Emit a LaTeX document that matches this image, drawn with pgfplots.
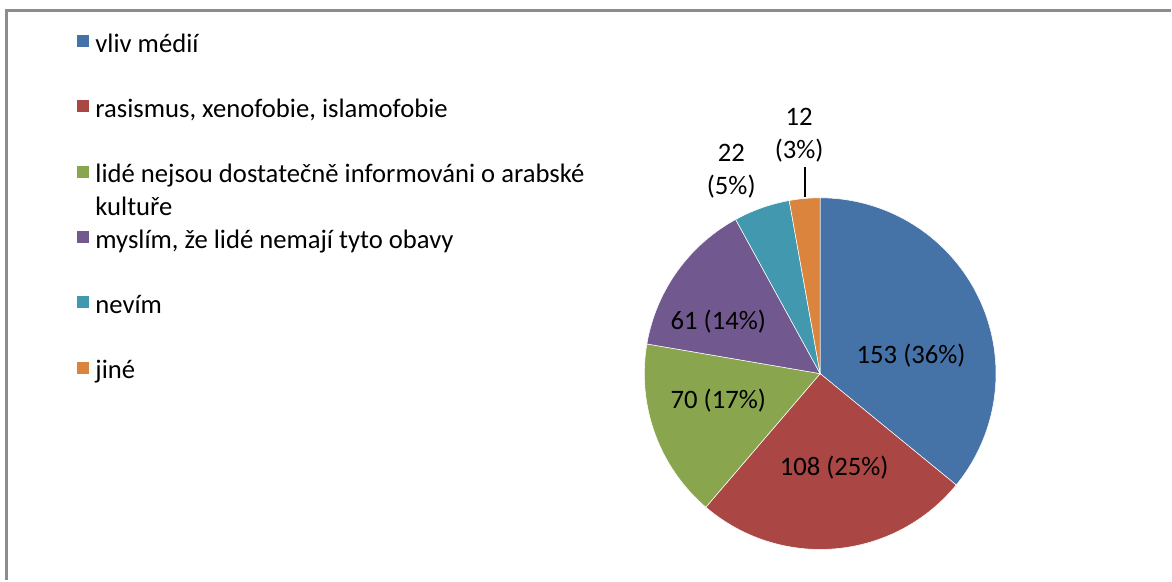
\documentclass[border=0pt]{standalone}
\usepackage{fontspec}
\setmainfont{Carlito}
\usepackage{pgfplots}
\pgfplotsset{compat=1.18}
\definecolor{cBlue}{HTML}{4572A7}
\definecolor{cRed}{HTML}{AA4643}
\definecolor{cGreen}{HTML}{89A54E}
\definecolor{cPurple}{HTML}{71588F}
\definecolor{cTeal}{HTML}{4198AF}
\definecolor{cOrange}{HTML}{DB843D}
\definecolor{cFrame}{HTML}{8C8C8C}
% data: answer counts
\def\vA{153}\def\vB{108}\def\vC{70}\def\vD{61}\def\vE{22}\def\vF{12}
\pgfmathsetmacro\total{\vA+\vB+\vC+\vD+\vE+\vF}
\pgfmathsetmacro\unit{360/\total}
\pgfmathsetmacro\aA{90}
\pgfmathsetmacro\aB{90-\unit*(\vA)}
\pgfmathsetmacro\aC{90-\unit*(\vA+\vB)}
\pgfmathsetmacro\aD{90-\unit*(\vA+\vB+\vC)}
\pgfmathsetmacro\aE{90-\unit*(\vA+\vB+\vC+\vD)}
\pgfmathsetmacro\aF{90-\unit*(\vA+\vB+\vC+\vD+\vE)}
\pgfmathsetmacro\aG{90-\unit*(\vA+\vB+\vC+\vD+\vE+\vF)}
\def\cx{821}\def\cy{374}\def\rr{176}
\begin{document}
\fontsize{20pt}{24.75pt}\selectfont
\begin{tikzpicture}[font=\fontsize{20pt}{24.75pt}\selectfont]
\begin{axis}[
  scale only axis, width=879pt, height=435.75pt,
  xmin=0, xmax=1172, ymin=0, ymax=581, y dir=reverse,
  hide axis, clip=false,
  legend style={at={(axis cs:76,29)}, anchor=north west, draw=none, fill=none,
    inner sep=0pt, outer sep=0pt, row sep=28.75pt, column sep=4.5pt,
    nodes={inner sep=0pt, outer sep=0pt},
    font=\fontsize{20pt}{24.75pt}\selectfont},
  legend cell align=left,
  legend image code/.code={\fill[#1] (0pt,-3.5pt) rectangle (9.75pt,6.25pt);},
]
\path (axis cs:0,0) rectangle (axis cs:1172,581);
\addplot[fill=cBlue, draw=white, line width=0.4pt, domain=\aB:\aA, samples=90, variable=\t]
  ({\cx+\rr*cos(\t)}, {\cy-\rr*sin(\t)}) -- (axis cs:\cx,\cy) -- cycle;
\addlegendentry{\strut vliv médií}
\addplot[fill=cRed, draw=white, line width=0.4pt, domain=\aC:\aB, samples=70, variable=\t]
  ({\cx+\rr*cos(\t)}, {\cy-\rr*sin(\t)}) -- (axis cs:\cx,\cy) -- cycle;
\addlegendentry{\strut rasismus, xenofobie, islamofobie}
\addplot[fill=cGreen, draw=white, line width=0.4pt, domain=\aD:\aC, samples=50, variable=\t]
  ({\cx+\rr*cos(\t)}, {\cy-\rr*sin(\t)}) -- (axis cs:\cx,\cy) -- cycle;
\addlegendentry{\strut\smash{\parbox[t]{420pt}{lidé nejsou dostatečně informováni o arabské\\kultuře}}}
\addplot[fill=cPurple, draw=white, line width=0.4pt, domain=\aE:\aD, samples=45, variable=\t]
  ({\cx+\rr*cos(\t)}, {\cy-\rr*sin(\t)}) -- (axis cs:\cx,\cy) -- cycle;
\addlegendentry{\strut myslím, že lidé nemají tyto obavy}
\addplot[fill=cTeal, draw=white, line width=0.4pt, domain=\aF:\aE, samples=20, variable=\t]
  ({\cx+\rr*cos(\t)}, {\cy-\rr*sin(\t)}) -- (axis cs:\cx,\cy) -- cycle;
\addlegendentry{\strut nevím}
\addplot[fill=cOrange, draw=white, line width=0.4pt, domain=\aG:\aF, samples=12, variable=\t]
  ({\cx+\rr*cos(\t)}, {\cy-\rr*sin(\t)}) -- (axis cs:\cx,\cy) -- cycle;
\addlegendentry{\strut jiné}
% labels
\node at (axis cs:912,356) {153 (36\%)};
\node at (axis cs:835,468) {108 (25\%)};
\node at (axis cs:719,401) {70 (17\%)};
\node at (axis cs:719,322) {61 (14\%)};
\node[align=center] at (axis cs:732,171) {22\\(5\%)};
\node[align=center] at (axis cs:800,135.5) {12\\(3\%)};
\draw[black, line width=1.3pt] (axis cs:806,167) -- (axis cs:806,197);
% frame
\draw[cFrame, line width=1.8pt] (axis cs:6.5,581) -- (axis cs:6.5,10.5) -- (axis cs:1172,10.5);
\end{axis}
\end{tikzpicture}
\end{document}
